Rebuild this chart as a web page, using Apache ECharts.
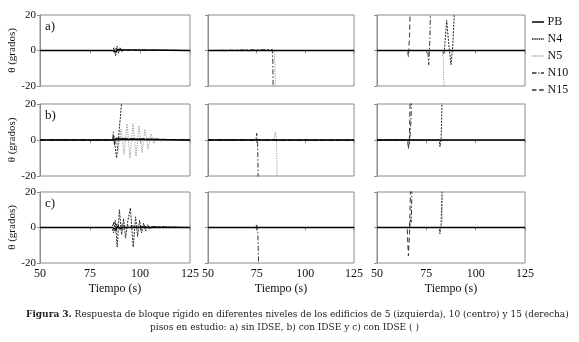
<!DOCTYPE html>
<html><head><meta charset="utf-8">
<script src="https://cdn.jsdelivr.net/npm/echarts@6/dist/echarts.min.js"></script>
<style>html,body{margin:0;padding:0;background:#fff}#c{width:579px;height:342px}</style>
</head><body><div id="c"></div>
<script>
// Series names and tick labels
const seriesNames = ['PB','N4','N5','N10','N15'];
const xTicks = [50, 75, 100, 125];
const yTicks = [-20, 0, 20];
const rowLabels = ['a)', 'b)', 'c)'];
const captionBold = 'Figura 3.';
const captionLine1 = ' Respuesta de bloque rígido en diferentes niveles de los edificios de 5 (izquierda), 10 (centro) y 15 (derecha)';
const captionLine2 = 'pisos en estudio: a) sin IDSE, b) con IDSE y c) con IDSE ( )';

// Row a) sin IDSE  — [tiempo (s), θ (grados)]
const a1_PB  = [[50,0],[86,0],[87,0.8],[88,-0.8],[89,0.6],[90,-0.5],[91,0.3],[92,0],[125,0]];
const a1_N4  = [[50,0],[86,0],[87,1.5],[87.8,-3],[88.5,2.5],[89.3,-1.5],[90,1.5],[91,-0.8],[92,0.5],[93,0],[125,0]];
const a1_N5  = [[50,0],[86.5,0],[87.5,-2],[88.5,1.5],[89.5,-1],[90.5,0.8],[92,0],[125,0]];
const a1_N10 = [[50,0],[86,0],[87,-1],[88,1],[89,-0.8],[90,0.5],[91,0],[125,0]];
const a1_N15 = [[50,0],[86.5,0],[87.5,1],[88.5,-1],[89.5,0.6],[91,0],[125,0]];

const a2_PB  = [[50,0],[125,0]];
const a2_N4  = [[50,0],[125,0]];
const a2_N5  = [[50,0],[84,0],[84.4,-8],[84.9,-40]];
const a2_N10 = [[50,0],[83,0.5],[83.3,-6],[83.6,-40]];
const a2_N15 = [[50,0],[125,0]];

const a3_PB  = [[50,0],[125,0]];
const a3_N4  = [[50,0],[83,0],[84,-2],[85.3,17],[86.5,2],[87.5,-8],[88.4,3],[90,40]];
const a3_N5  = [[50,0],[83,0],[83.6,-5],[84.3,-40]];
const a3_N10 = [[50,0],[75.8,0],[76.2,-8],[76.8,6],[77.4,40]];
const a3_N15 = [[50,0],[65.5,0],[65.9,-3.5],[66.5,8],[67.1,40]];

// Row b) con IDSE
const b1_PB  = [[50,0],[86.5,0],[87,1],[87.5,-1],[88.2,0.5],[89,0],[125,0]];
const b1_N4  = [[50,0],[87,0],[87.6,-4],[88.3,-10],[89,-2],[89.8,8],[90.6,18],[91.5,40]];
const b1_N5  = [[50,0],[88,0],[89,-6],[90.5,6],[92,-8],[93.5,9],[95,-10],[96.5,9],[98,-9],[99.5,8],[101,-7],[102.5,6],[104,-5],[105.5,3.5],[107,-2],[108.5,1],[110,-0.5],[111,0],[125,0]];
const b1_N10 = [[50,0],[86.3,0],[86.7,4.5],[87.2,-3],[87.8,1],[88.5,0],[125,0]];
const b1_N15 = [[50,0],[86.5,0],[87,2],[87.5,-2],[88,1],[89,0],[125,0]];

const b2_PB  = [[50,0],[125,0]];
const b2_N4  = [[50,0],[125,0]];
const b2_N5  = [[50,0],[84,0],[84.5,4.6],[85.2,1],[85.8,-40]];
const b2_N10 = [[50,0],[74.6,0],[75,3.7],[75.5,-2],[76,-40]];
const b2_N15 = [[50,0],[125,0]];

const b3_PB  = [[50,0],[125,0]];
const b3_N4  = [[50,0],[81.5,0],[81.9,-3.7],[82.5,1],[83.4,40]];
const b3_N5  = [[50,0],[125,0]];
const b3_N10 = [[50,0],[66,0],[66.5,-2],[67.2,10],[67.8,40]];
const b3_N15 = [[50,0],[65.5,0],[65.9,-5],[66.4,0],[67.1,40]];

// Row c) con IDSE ( )
const c1_PB  = [[50,0],[86,0],[87,1],[88,-1],[89,0.8],[90,-0.6],[91,0.4],[92,0],[125,0]];
const c1_N4  = [[50,0],[86,0],[86.8,-3],[87.6,4],[88.6,-11],[89.7,10],[90.8,-4],[91.8,5],[92.8,-6],[93.8,3],[95.2,11],[96.6,-11],[97.8,6],[98.8,-5],[99.8,4],[100.8,-3],[101.8,2.5],[102.8,-2],[103.8,1.5],[104.8,-1],[106,0.5],[107,0],[125,0]];
const c1_N5  = [[50,0],[86,0],[87,2],[88,-3],[89,3],[90,-2],[91,2],[92,-1.5],[93,1],[94,0],[125,0]];
const c1_N10 = [[50,0],[86,0],[87,3],[88,-2],[89,1],[90,0],[125,0]];
const c1_N15 = [[50,0],[86.5,0],[87.5,-2],[88.5,2],[89.5,0],[125,0]];

const c2_PB  = [[50,0],[125,0]];
const c2_N4  = [[50,0],[125,0]];
const c2_N5  = [[50,0],[83.6,0],[84,1],[84.5,-1],[85,0],[125,0]];
const c2_N10 = [[50,0],[74.6,0],[75,2],[75.6,-3],[76.4,-40]];
const c2_N15 = [[50,0],[125,0]];

const c3_PB  = [[50,0],[125,0]];
const c3_N4  = [[50,0],[81.5,0],[81.9,-3.5],[82.5,2],[83.5,40]];
const c3_N5  = [[50,0],[82.5,0],[83,3],[83.8,40]];
const c3_N10 = [[50,0],[66.5,0],[67,5],[67.4,3],[68,40]];
const c3_N15 = [[50,0],[65.3,0],[65.9,-16],[66.5,-3],[67.3,40]];

const panels = [
  [ [a1_PB,a1_N4,a1_N5,a1_N10,a1_N15], [a2_PB,a2_N4,a2_N5,a2_N10,a2_N15], [a3_PB,a3_N4,a3_N5,a3_N10,a3_N15] ],
  [ [b1_PB,b1_N4,b1_N5,b1_N10,b1_N15], [b2_PB,b2_N4,b2_N5,b2_N10,b2_N15], [b3_PB,b3_N4,b3_N5,b3_N10,b3_N15] ],
  [ [c1_PB,c1_N4,c1_N5,c1_N10,c1_N15], [c2_PB,c2_N4,c2_N5,c2_N10,c2_N15], [c3_PB,c3_N4,c3_N5,c3_N10,c3_N15] ]
];

// Layout & styles
const gLeft = [40, 208, 377], gWidth = [150, 146, 148];
const gTop = [15, 104, 192], gHeight = [71, 72, 71];
const FONT = 'Liberation Serif';
const CAPFONT = 'DejaVu Serif';
const styles = {
  PB:  {color:'#000', type:'solid', width:1.3},
  N4:  {color:'#222', type:[2,1.2], width:1},
  N5:  {color:'#9a9a9a', type:[1.2,1.2], width:1},
  N10: {color:'#333', type:[5,2,1.5,2], width:1},
  N15: {color:'#333', type:[5,3], width:1}
};
// legend icon shapes (dash patterns drawn as small bars)
const legendIcons = {
  PB:  'path://M0,0H16V2H0Z',
  N4:  'path://M0,0H2V2H0Z M3,0H5V2H3Z M6,0H8V2H6Z M9,0H11V2H9Z M12,0H14V2H12Z M15,0H16V2H15Z',
  N5:  'path://M0,0H1V2H0Z M2,0H3V2H2Z M4,0H5V2H4Z M6,0H7V2H6Z M8,0H9V2H8Z M10,0H11V2H10Z M12,0H13V2H12Z M14,0H15V2H14Z M15.9,0H16V2H15.9Z',
  N10: 'path://M0,0H6V2H0Z M8.5,0H10V2H8.5Z M12,0H16V2H12Z',
  N15: 'path://M0,0H6V2H0Z M9.5,0H15.5V2H9.5Z M15.9,0H16V2H15.9Z'
};
const axisGray = '#8c8c8c';

const grids = [], xAxes = [], yAxes = [], series = [];
let idx = 0;
for (let r = 0; r < 3; r++) {
  for (let c = 0; c < 3; c++) {
    grids.push({left:gLeft[c], top:gTop[r], width:gWidth[c], height:gHeight[r], show:true, borderColor:axisGray, borderWidth:1, containLabel:false});
    xAxes.push({
      type:'value', gridIndex:idx, min:xTicks[0], max:xTicks[xTicks.length-1], interval:25,
      axisLine:{show:true, lineStyle:{color:axisGray}},
      axisTick:{show:true, length:3, lineStyle:{color:axisGray}},
      splitLine:{show:false},
      axisLabel:{show:r===2, color:'#111', fontFamily:FONT, fontSize:12, margin:5},
      name: r===2 ? 'Tiempo (s)' : '', nameLocation:'middle', nameGap:20,
      nameTextStyle:{color:'#111', fontFamily:FONT, fontSize:12}
    });
    yAxes.push({
      type:'value', gridIndex:idx, min:yTicks[0], max:yTicks[yTicks.length-1], interval:20,
      axisLine:{show:true, lineStyle:{color:axisGray}},
      axisTick:{show:true, length:3, lineStyle:{color:axisGray}},
      splitLine:{show:false},
      axisLabel:{show:c===0, color:'#111', fontFamily:FONT, fontSize:11, margin:4},
      name: c===0 ? 'θ (grados)' : '', nameLocation:'middle', nameGap:18, nameRotate:90,
      nameTextStyle:{color:'#111', fontFamily:FONT, fontSize:11}
    });
    seriesNames.forEach((nm, k) => {
      const s = styles[nm];
      series.push({
        name:nm, type:'line', xAxisIndex:idx, yAxisIndex:idx, data:panels[r][c][k],
        symbol:'none', showSymbol:false, clip:true, animation:false, silent:true,
        z: nm==='PB' ? 10 : 5,
        lineStyle:{color:s.color, type:s.type, width:s.width}, itemStyle:{color:s.color}
      });
    });
    idx++;
  }
}

const graphic = rowLabels.map((t, r) => ({
  type:'text', left:gLeft[0]+5, top:gTop[r]+5,
  style:{text:t, font:'13px "' + FONT + '"', fill:'#111'}
}));
graphic.push({
  type:'text', left:26, top:310,
  style:{
    text:'{b|' + captionBold + '}{n|' + captionLine1 + '}',
    rich:{
      b:{fontWeight:'bold', fontFamily:CAPFONT, fontSize:9, fill:'#222'},
      n:{fontFamily:CAPFONT, fontSize:9, fill:'#222'}
    }
  }
});
graphic.push({
  type:'text', left:150, top:323,
  style:{text:captionLine2, font:'9px "' + CAPFONT + '"', fill:'#222'}
});

const chart = echarts.init(document.getElementById('c'), null, {renderer:'canvas'});
chart.setOption({
  animation:false,
  backgroundColor:'#fff',
  grid:grids, xAxis:xAxes, yAxis:yAxes, series:series,
  legend:{
    data:seriesNames.map(n => ({name:n, icon:legendIcons[n]})),
    orient:'vertical', left:527, top:11, itemWidth:15, itemHeight:1.5, itemGap:5,
    textStyle:{color:'#111', fontFamily:FONT, fontSize:12, padding:[0,0,0,-3]},
    selectedMode:false
  },
  graphic:graphic
});
</script></body></html>
